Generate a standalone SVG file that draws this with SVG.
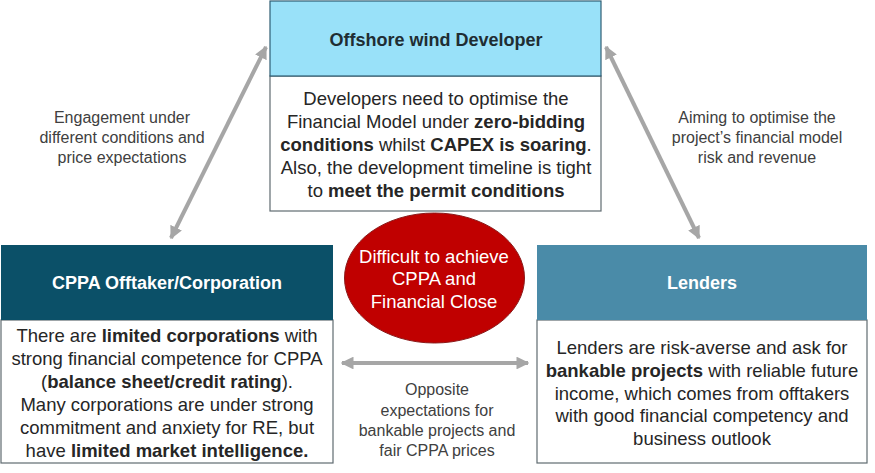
<svg xmlns="http://www.w3.org/2000/svg" width="875" height="473" viewBox="0 0 875 473">
<defs>
<marker id="ah" viewBox="0 0 10 10" refX="9" refY="5" markerWidth="3.2" markerHeight="3.2" orient="auto-start-reverse" markerUnits="strokeWidth">
<path d="M0,0 L10,5 L0,10 z" fill="#A6A6A6"/>
</marker>
<style>
.body{fill:#fff;stroke:#5F6B70;stroke-width:1.2}
.hd{font-family:"Liberation Sans",Arial,sans-serif;font-size:18px;font-weight:bold;text-anchor:middle}
.tx{font-family:"Liberation Sans",Arial,sans-serif;font-size:18.5px;fill:#262626;text-anchor:middle}
.wt{fill:#fff}
.lb{font-family:"Liberation Sans",Arial,sans-serif;font-size:16px;fill:#404040;text-anchor:middle}
.b{font-weight:bold}
.conn{stroke:#A6A6A6;stroke-width:4;fill:none;marker-start:url(#ah);marker-end:url(#ah)}
</style>
</defs>
<rect width="875" height="473" fill="#fff"/>
<g id="connectors">
<line class="conn" x1="266" y1="47" x2="171" y2="238"/>
<line class="conn" x1="606" y1="47" x2="699" y2="238"/>
<line class="conn" x1="342" y1="363" x2="528" y2="363"/>
</g>
<g id="labels">
<text class="lb" x="122" y="123">Engagement under</text>
<text class="lb" x="122" y="143">different conditions and</text>
<text class="lb" x="122" y="163">price expectations</text>
<text class="lb" x="757" y="123">Aiming to optimise the</text>
<text class="lb" x="757" y="143">project’s financial model</text>
<text class="lb" x="757" y="163">risk and revenue</text>
<text class="lb" x="437" y="395">Opposite</text>
<text class="lb" x="437" y="416">expectations for</text>
<text class="lb" x="437" y="436">bankable projects and</text>
<text class="lb" x="437" y="456">fair CPPA prices</text>
</g>
<g id="developer">
<rect x="270" y="76" width="331" height="135" class="body"/>
<rect x="270" y="1" width="331" height="75" fill="#99E1F9" stroke="#2F5E73" stroke-width="1.2"/>
<text class="hd" x="436" y="46" fill="#1F2D33">Offshore wind Developer</text>
<text class="tx" x="436" y="105">Developers need to optimise the</text>
<text class="tx" x="436" y="128">Financial Model under <tspan class="b">zero-bidding</tspan></text>
<text class="tx" x="436" y="151"><tspan class="b">conditions</tspan> whilst <tspan class="b">CAPEX is soaring</tspan>.</text>
<text class="tx" x="436" y="174">Also, the development timeline is tight</text>
<text class="tx" x="436" y="197">to <tspan class="b">meet the permit conditions</tspan></text>
</g>
<g id="cppa">
<rect x="1" y="320" width="332" height="143" class="body"/>
<rect x="1" y="245" width="332" height="75" fill="#0B5068"/>
<text class="hd" x="167" y="289" fill="#fff">CPPA Offtaker/Corporation</text>
<text class="tx" x="167" y="342">There are <tspan class="b">limited corporations</tspan> with</text>
<text class="tx" x="167" y="365">strong financial competence for CPPA</text>
<text class="tx" x="167" y="388">(<tspan class="b">balance sheet/credit rating</tspan>).</text>
<text class="tx" x="167" y="411">Many corporations are under strong</text>
<text class="tx" x="167" y="434">commitment and anxiety for RE, but</text>
<text class="tx" x="167" y="457">have <tspan class="b">limited market intelligence.</tspan></text>
</g>
<g id="lenders">
<rect x="537" y="320" width="330" height="143" class="body"/>
<rect x="537" y="245" width="330" height="75" fill="#4A8BA8"/>
<text class="hd" x="702" y="289" fill="#fff">Lenders</text>
<text class="tx" x="702" y="354">Lenders are risk-averse and ask for</text>
<text class="tx" x="702" y="377"><tspan class="b">bankable projects</tspan> with reliable future</text>
<text class="tx" x="702" y="400">income, which comes from offtakers</text>
<text class="tx" x="702" y="422">with good financial competency and</text>
<text class="tx" x="702" y="445">business outlook</text>
</g>
<g id="difficult">
<ellipse cx="434.5" cy="278" rx="90" ry="65" fill="#C00000" stroke="#8B1A1A" stroke-width="1"/>
<text class="tx wt" x="434" y="263">Difficult to achieve</text>
<text class="tx wt" x="434" y="285">CPPA and</text>
<text class="tx wt" x="434" y="308">Financial Close</text>
</g>
</svg>
